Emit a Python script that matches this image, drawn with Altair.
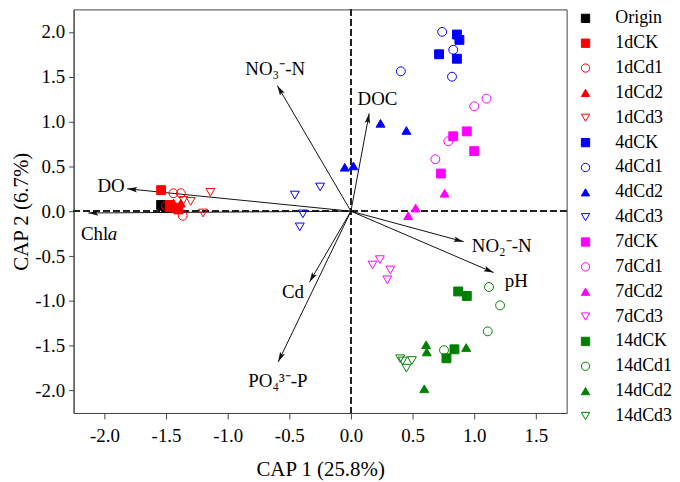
import math
import altair as alt
import pandas as pd

FONT = "Liberation Serif"

# ---------------- sample groups ----------------
groups = ["Origin", "1dCK", "1dCd1", "1dCd2", "1dCd3", "4dCK", "4dCd1", "4dCd2", "4dCd3",
          "7dCK", "7dCd1", "7dCd2", "7dCd3", "14dCK", "14dCd1", "14dCd2", "14dCd3"]
group_colors = ["#000000", "#ff0000", "#ff0000", "#ff0000", "#ff0000",
                "#0000ff", "#0000ff", "#0000ff", "#0000ff",
                "#ff00ff", "#ff00ff", "#ff00ff", "#ff00ff",
                "#008000", "#008000", "#008000", "#008000"]
group_shapes = ["square", "square", "circle", "triangle-up", "triangle-down",
                "square", "circle", "triangle-up", "triangle-down",
                "square", "circle", "triangle-up", "triangle-down",
                "square", "circle", "triangle-up", "triangle-down"]
group_filled = [True, True, False, True, False,
                True, False, True, False,
                True, False, True, False,
                True, False, True, False]

# ---------------- sample scores (CAP1, CAP2) ----------------
origin_x = [-1.54, -1.50, -1.52]
origin_y = [0.07, 0.04, 0.06]
d1ck_x = [-1.54, -1.44, -1.40, -1.47]
d1ck_y = [0.235, 0.04, 0.02, 0.07]
d1cd1_x = [-1.44, -1.38, -1.365, -1.50]
d1cd1_y = [0.20, 0.20, -0.05, 0.06]
d1cd2_x = [-1.44, -1.38, -1.47, -1.40]
d1cd2_y = [0.09, 0.09, 0.04, 0.02]
d1cd3_x = [-1.14, -1.30, -1.20, -1.36]
d1cd3_y = [0.21, 0.11, -0.02, 0.12]
d4ck_x = [0.86, 0.88, 0.715, 0.86]
d4ck_y = [1.97, 1.91, 1.75, 1.70]
d4cd1_x = [0.74, 0.83, 0.405, 0.82]
d4cd1_y = [2.00, 1.80, 1.56, 1.50]
d4cd2_x = [0.24, 0.45, -0.05, 0.02]
d4cd2_y = [0.98, 0.90, 0.49, 0.505]
d4cd3_x = [-0.455, -0.25, -0.39, -0.415]
d4cd3_y = [0.18, 0.27, -0.03, -0.175]
d7ck_x = [0.83, 0.94, 1.00, 0.73]
d7ck_y = [0.835, 0.89, 0.67, 0.42]
d7cd1_x = [1.00, 1.10, 0.79, 0.685]
d7cd1_y = [1.17, 1.255, 0.78, 0.58]
d7cd2_x = [0.76, 0.525, 0.465]
d7cd2_y = [0.20, 0.035, -0.05]
d7cd3_x = [0.175, 0.235, 0.32, 0.295]
d7cd3_y = [-0.60, -0.54, -0.655, -0.765]
d14ck_x = [0.87, 0.94, 0.84, 0.775]
d14ck_y = [-0.895, -0.945, -1.54, -1.64]
d14cd1_x = [1.12, 1.21, 1.11, 0.755]
d14cd1_y = [-0.845, -1.05, -1.34, -1.55]
d14cd2_x = [0.61, 0.615, 0.935, 0.595]
d14cd2_y = [-1.49, -1.57, -1.52, -1.98]
d14cd3_x = [0.40, 0.495, 0.45, 0.42]
d14cd3_y = [-1.645, -1.665, -1.75, -1.67]

group_xs = [origin_x, d1ck_x, d1cd1_x, d1cd2_x, d1cd3_x, d4ck_x, d4cd1_x, d4cd2_x, d4cd3_x,
            d7ck_x, d7cd1_x, d7cd2_x, d7cd3_x, d14ck_x, d14cd1_x, d14cd2_x, d14cd3_x]
group_ys = [origin_y, d1ck_y, d1cd1_y, d1cd2_y, d1cd3_y, d4ck_y, d4cd1_y, d4cd2_y, d4cd3_y,
            d7ck_y, d7cd1_y, d7cd2_y, d7cd3_y, d14ck_y, d14cd1_y, d14cd2_y, d14cd3_y]

# ---------------- environmental vectors ----------------
vec_names = ["DO", "Chla", "NO3", "DOC", "NO2", "pH", "Cd", "PO4"]
vec_x = [-1.815, -2.13, -0.597, 0.148, 0.914, 1.157, -0.336, -0.59]
vec_y = [0.25, -0.02, 1.40, 1.09, -0.34, -0.684, -0.79, -1.68]

label_text = ["DO", "Chl", "NO₃⁻-N", "DOC", "NO₂⁻-N", "pH", "Cd", "PO₄³⁻-P"]
label_x = [-1.835, -2.19, -0.857, 0.054, 0.981, 1.248, -0.559, -0.833]
label_y = [0.276, -0.25, 1.585, 1.246, -0.389, -0.782, -0.902, -1.893]
label_align = ["right", "left", "left", "left", "left", "left", "left", "left"]

x_ticks = [-2.0, -1.5, -1.0, -0.5, 0.0, 0.5, 1.0, 1.5]
y_ticks = [-2.0, -1.5, -1.0, -0.5, 0.0, 0.5, 1.0, 1.5, 2.0]

W, H = 496, 406
XDOM = [-2.25, 1.75]
YDOM = [-2.25, 2.25]
px_x = W / (XDOM[1] - XDOM[0])
px_y = H / (YDOM[1] - YDOM[0])

rows = []
for g, xs, ys in zip(groups, group_xs, group_ys):
    for a, b in zip(xs, ys):
        rows.append({"group": g, "x": a, "y": b})
pts = pd.DataFrame(rows)

vec = pd.DataFrame({"name": vec_names, "x": vec_x, "y": vec_y})
vec["ox"] = 0.0
vec["oy"] = 0.0
vec["angle"] = [(math.degrees(math.atan2(a * px_x, b * px_y)) + 360) % 360 for a, b in zip(vec_x, vec_y)]

lab = pd.DataFrame({"text": label_text, "x": label_x, "y": label_y, "align": label_align})

fills = [c if f else "transparent" for c, f in zip(group_colors, group_filled)]

lab_expr = "datum.value < 0 ? '-' + format(abs(datum.value), '.1f') : format(datum.value, '.1f')"

xscale = alt.Scale(domain=XDOM, nice=False, zero=False)
yscale = alt.Scale(domain=YDOM, nice=False, zero=False)

xaxis = alt.Axis(values=x_ticks, labelExpr=lab_expr, title="CAP 1 (25.8%)", grid=False,
                 tickSize=6, labelPadding=8, titlePadding=13,
                 labelFont=FONT, titleFont=FONT, labelFontSize=19, titleFontSize=21)
yaxis = alt.Axis(values=y_ticks, labelExpr=lab_expr, title="CAP 2 (6.7%)", grid=False,
                 tickSize=5, labelPadding=4, titlePadding=3,
                 labelFont=FONT, titleFont=FONT, labelFontSize=19, titleFontSize=21)

base_x = alt.X("x:Q", scale=xscale, axis=xaxis)
base_y = alt.Y("y:Q", scale=yscale, axis=yaxis)

zero_v = alt.Chart(pts).mark_rule(strokeDash=[6, 4], color="#222", strokeWidth=1).encode(
    x=alt.datum(0, scale=xscale, axis=xaxis))
zero_h = alt.Chart(pts).mark_rule(strokeDash=[6, 4], color="#222", strokeWidth=1).encode(
    y=alt.datum(0, scale=yscale, axis=yaxis))

arrows = alt.Chart(vec).mark_rule(color="#111", strokeWidth=1).encode(
    x=alt.X("ox:Q", scale=xscale, axis=xaxis), y=alt.Y("oy:Q", scale=yscale, axis=yaxis),
    x2="x:Q", y2="y:Q")

heads = alt.Chart(vec).mark_point(
    shape="M0,0L-0.55,2L0,1.6L0.55,2Z", filled=True, color="#111", size=100, opacity=1
).encode(x=base_x, y=base_y, angle=alt.Angle("angle:Q", scale=None))

labels_left = alt.Chart(lab[lab["align"] == "left"]).mark_text(
    font=FONT, fontSize=19, baseline="middle", align="left", color="black").encode(
    x=base_x, y=base_y, text="text:N")
labels_right = alt.Chart(lab[lab["align"] == "right"]).mark_text(
    font=FONT, fontSize=19, baseline="middle", align="right", color="black").encode(
    x=base_x, y=base_y, text="text:N")

ital_a = alt.Chart(lab[lab["text"] == "Chl"]).mark_text(
    font=FONT, fontSize=19, fontStyle="italic", baseline="middle", align="left", dx=27, color="black"
).encode(x=base_x, y=base_y, text=alt.value("a"))

legend = alt.Legend(title=None, orient="none", legendX=506, legendY=0, padding=0,
                    labelFont=FONT, labelFontSize=18, labelColor="black",
                    symbolSize=70, symbolStrokeWidth=1, rowPadding=7, labelOffset=21)

points = alt.Chart(pts).mark_point(size=80, strokeWidth=1, opacity=1).encode(
    x=base_x, y=base_y,
    stroke=alt.Stroke("group:N", scale=alt.Scale(domain=groups, range=group_colors), legend=legend),
    fill=alt.Fill("group:N", scale=alt.Scale(domain=groups, range=fills), legend=legend),
    shape=alt.Shape("group:N", scale=alt.Scale(domain=groups, range=group_shapes), legend=legend),
)

chart = alt.layer(zero_v, zero_h, arrows, heads, points, labels_left, labels_right, ital_a).properties(
    width=W, height=H,
    autosize=alt.AutoSizeParams(type="none"),
    padding={"left": 66, "top": 0, "right": 106, "bottom": 68},
).configure_view(stroke="#444", strokeWidth=1).configure_axis(
    labelFont=FONT, titleFont=FONT, labelFontSize=19, titleFontSize=21, titleFontWeight="normal",
    labelColor="black", titleColor="black", domainColor="#444", tickColor="#444",
)

chart.save("out.html", embed_options={"renderer": "svg", "actions": False})
